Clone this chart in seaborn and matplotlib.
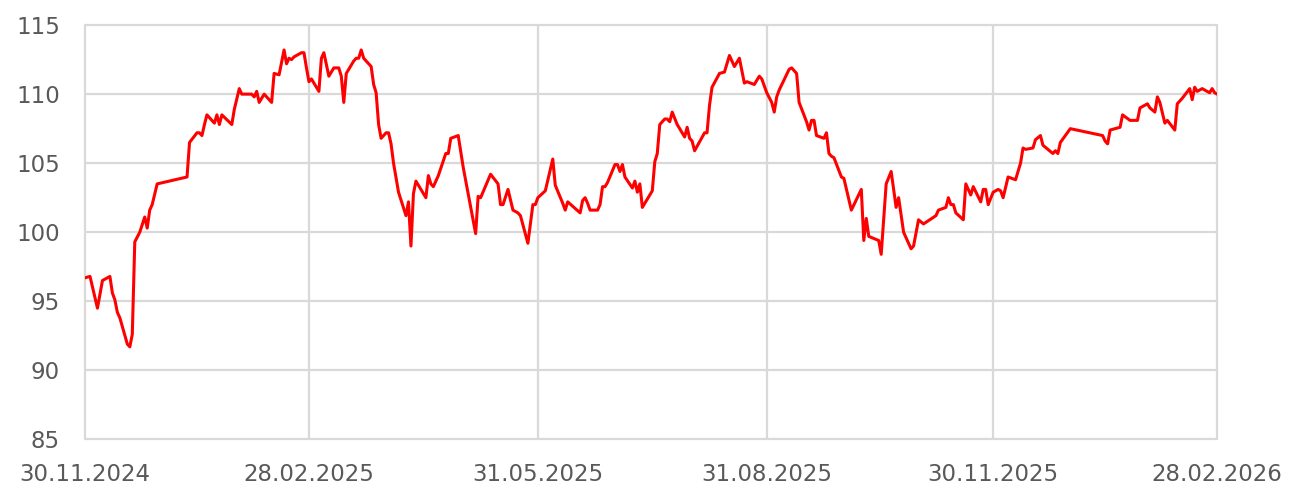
import pandas as pd
import numpy as np
import matplotlib
matplotlib.use('Agg')
import matplotlib.pyplot as plt
import matplotlib.dates as mdates
import seaborn as sns

start = pd.Timestamp('2024-11-30')

# days since 30.11.2024 and index values
days = [0, 2, 5, 7, 10, 11, 12, 13, 14, 17, 18, 19, 20, 22, 24, 25, 26, 27, 29, 41,
        42, 45, 46, 47, 48, 49, 52, 53, 54, 55, 59, 60, 62, 63, 67, 68, 69, 70, 72, 75,
        76, 78, 80, 81, 82, 83, 84, 87, 88, 89, 90, 91, 94, 95, 96, 98, 100, 102, 103, 104,
        105, 108, 109, 110, 111, 112, 115, 116, 117, 118, 119, 121, 122, 123, 124, 126, 129, 130, 131, 132,
        133, 137, 138, 139, 140, 142, 145, 146, 147, 150, 152, 157, 158, 159, 163, 166, 167, 168, 170, 172,
        174, 175, 178, 180, 181, 182, 185, 188, 189, 192, 193, 194, 199, 200, 201, 202, 203, 206, 207, 208,
        209, 210, 213, 214, 215, 216, 217, 220, 221, 222, 223, 224, 228, 229, 230, 231, 233, 234, 235, 236,
        238, 241, 242, 243, 244, 245, 249, 250, 251, 252, 255, 257, 259, 261, 263, 265, 266, 269, 271, 272,
        274, 276, 277, 278, 279, 283, 284, 286, 287, 290, 291, 292, 293, 294, 297, 298, 299, 300, 301, 304,
        305, 308, 312, 313, 314, 315, 319, 320, 322, 324, 326, 327, 329, 332, 333, 335, 337, 342, 343, 346,
        347, 348, 349, 350, 353, 354, 356, 357, 360, 361, 362, 363, 365, 367, 368, 369, 371, 374, 376, 377,
        378, 381, 382, 384, 385, 389, 390, 391, 392, 394, 396, 409, 410, 411, 412, 416, 417, 420, 423, 424,
        425, 427, 428, 430, 431, 432, 434, 435, 438, 439, 441, 444, 445, 446, 447, 449, 452, 453, 454, 455]

values = [96.7, 96.8, 94.5, 96.5, 96.8, 95.6, 95.1, 94.2, 93.8, 91.9, 91.7, 92.6, 99.3, 100.0, 101.1, 100.3, 101.6, 102.0, 103.5, 104.0,
          106.5, 107.2, 107.2, 107.0, 107.8, 108.5, 107.9, 108.5, 107.8, 108.5, 107.8, 108.9, 110.4, 110.0, 110.0, 109.8, 110.2, 109.4, 110.0, 109.4,
          111.5, 111.4, 113.2, 112.2, 112.6, 112.5, 112.7, 113.0, 113.0, 111.9, 110.9, 111.1, 110.2, 112.6, 113.0, 111.3, 111.9, 111.9, 111.3, 109.4,
          111.5, 112.4, 112.6, 112.6, 113.2, 112.6, 112.0, 110.7, 110.1, 107.8, 106.8, 107.2, 107.2, 106.4, 105.0, 102.9, 101.2, 102.2, 99.0, 102.8,
          103.7, 102.5, 104.1, 103.5, 103.3, 104.1, 105.7, 105.7, 106.8, 107.0, 104.7, 99.9, 102.6, 102.5, 104.2, 103.5, 102.0, 102.0, 103.1, 101.6,
          101.4, 101.2, 99.2, 102.0, 102.0, 102.5, 103.0, 105.3, 103.4, 102.1, 101.6, 102.2, 101.4, 102.3, 102.5, 102.1, 101.6, 101.6, 102.0, 103.3,
          103.3, 103.6, 104.9, 104.9, 104.4, 104.9, 104.0, 103.2, 103.7, 102.9, 103.5, 101.8, 103.0, 105.1, 105.7, 107.8, 108.2, 108.2, 108.0, 108.7,
          107.8, 106.9, 107.6, 106.8, 106.6, 105.9, 107.2, 107.2, 109.2, 110.5, 111.5, 111.6, 112.8, 112.0, 112.6, 110.8, 110.9, 110.7, 111.3, 111.1,
          110.1, 109.4, 108.7, 109.8, 110.3, 111.8, 111.9, 111.5, 109.4, 108.0, 107.4, 108.1, 108.1, 107.0, 106.8, 107.2, 105.7, 105.5, 105.4, 104.0,
          103.9, 101.6, 103.1, 99.4, 101.0, 99.7, 99.4, 98.4, 103.5, 104.4, 101.8, 102.5, 100.0, 98.8, 99.0, 100.9, 100.6, 101.2, 101.6, 101.8,
          102.5, 102.0, 102.0, 101.4, 100.9, 103.5, 102.7, 103.3, 102.2, 103.1, 103.1, 102.0, 102.9, 103.1, 103.0, 102.5, 104.0, 103.8, 105.0, 106.1,
          106.0, 106.1, 106.7, 107.0, 106.3, 105.7, 105.9, 105.7, 106.5, 107.0, 107.5, 107.0, 106.6, 106.4, 107.4, 107.6, 108.5, 108.1, 108.1, 109.0,
          109.1, 109.3, 109.0, 108.7, 109.8, 109.4, 107.9, 108.1, 107.4, 109.3, 109.7, 110.4, 109.6, 110.5, 110.2, 110.4, 110.1, 110.4, 110.1, 110.0]

tick_dates = ['2024-11-30', '2025-02-28', '2025-05-31', '2025-08-31', '2025-11-30', '2026-02-28']
y_ticks = [85, 90, 95, 100, 105, 110, 115]

df = pd.DataFrame({'date': start + pd.to_timedelta(days, unit='D'), 'value': values})

sns.set_style('white')
plt.rcParams['font.family'] = ['DejaVu Sans']

fig = plt.figure(figsize=(13.08, 4.92), dpi=100)
ax = fig.add_axes([0.065, 0.107, 0.8655, 0.842])

grid_kw = dict(color='#d9d9d9', linewidth=1.6, zorder=1, clip_on=False)
ticks = pd.to_datetime(tick_dates)
for t in ticks:
    ax.axvline(t, **grid_kw)
for v in y_ticks:
    ax.axhline(v, **grid_kw)

sns.lineplot(data=df, x='date', y='value', color='#ff0000', linewidth=2.2, ax=ax, zorder=3)

ax.set_xlim(ticks[0], ticks[-1])
ax.set_ylim(85, 115)
ax.set_xticks(ticks)
ax.xaxis.set_major_formatter(mdates.DateFormatter('%d.%m.%Y'))
ax.set_yticks(y_ticks)
ax.set_xlabel('')
ax.set_ylabel('')
for s in ax.spines.values():
    s.set_visible(False)
ax.tick_params(axis='x', length=0, pad=17, labelsize=16.5, labelcolor='#595959')
ax.tick_params(axis='y', length=0, pad=18, labelsize=16.5, labelcolor='#595959')

fig.savefig('out.png', dpi=100, facecolor='white')
